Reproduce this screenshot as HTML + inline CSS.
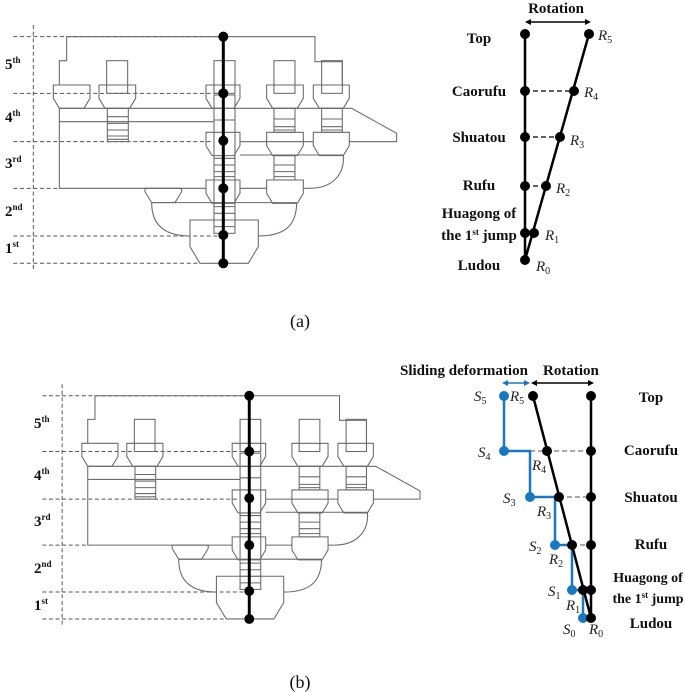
<!DOCTYPE html>
<html><head><meta charset="utf-8"><style>
html,body{margin:0;padding:0;background:#fff;}
svg{display:block;}
.lb{font-family:"Liberation Serif",serif;font-weight:bold;font-size:15px;fill:#111;}
.it{font-family:"Liberation Serif",serif;font-style:italic;font-size:15px;fill:#222;}
.sub{font-size:10px;font-style:normal;}
</style></head><body>
<svg width="685" height="693" viewBox="0 0 685 693" xmlns="http://www.w3.org/2000/svg">
<defs>
<g id="dr" fill="none" stroke-linejoin="miter">
 <g stroke="#555" stroke-width="3" stroke-dasharray="12,8">
  <path d="M40,50H670M40,220H660M40,365H640M40,505H180M40,648H660M40,730H600M100,15V755"/>
 </g>
 <g stroke="#6a6a6a" stroke-width="3.2">
  <path d="M178,195V122H200V50H945V125H1027V195"/>
  <path d="M178,265H1055L1190,340V365H1048M720,365H940M910,365H800"/>
  <path d="M178,305H642M178,265V505H618M720,505H800M910,505H930"/>
  <path d="M720,405H1030C1035,470 990,505 930,505"/>
  <path d="M435,505H545V515L525,548H455L435,515Z"/>
  <path d="M455,548H890M455,548C455,620 500,648 570,648M890,548C890,620 850,648 775,648"/>
  <path d="M570,600H775V680L745,730H600L570,680Z"/>
  <path d="M160,195H270V235L252,265H178L160,235Z"/>
  <path d="M297,195H407V235L389,265H315L297,235Z"/>
  <path d="M618,195H720V235L702,265H636L618,235Z"/>
  <path d="M800,195H910V235L892,265H818L800,235Z"/>
  <path d="M940,195H1048V235L1030,265H958L940,235Z"/>
  <path d="M618,337H720V377L702,407H636L618,377Z"/>
  <path d="M800,337H910V377L892,407H818L800,377Z"/>
  <path d="M940,337H1048V377L1030,407H958L940,377Z"/>
  <path d="M618,480H720V520L702,550H636L618,520Z"/>
  <path d="M800,480H910V520L892,550H818L800,520Z"/>
  <rect x="320" y="122" width="63" height="98"/>
  <rect x="642" y="122" width="63" height="98"/>
  <rect x="822" y="122" width="63" height="98"/>
  <rect x="965" y="122" width="62" height="98"/>
  <rect x="322" y="265" width="63" height="100"/>
  <path d="M322,290H385M322,310H385M322,330H385M322,348H385M322,358H385"/>
  <rect x="642" y="225" width="63" height="415"/>
  <path d="M642,300H705M642,415H705M642,435H705M642,455H705M642,470H705M642,560H705M642,580H705M642,600H705M642,620H705"/>
  <rect x="822" y="265" width="63" height="72"/>
  <path d="M822,297H885M822,320H885M822,330H885"/>
  <rect x="965" y="265" width="62" height="72"/>
  <path d="M965,297H1027M965,320H1027M965,330H1027"/>
  <rect x="822" y="407" width="63" height="73"/>
  <path d="M822,435H885M822,455H885M822,470H885"/>
 </g>
 <path d="M670,50V730" stroke="#000" stroke-width="9"/>
 <g fill="#000"><circle cx="670" cy="50" r="15"/><circle cx="670" cy="220" r="15"/><circle cx="670" cy="362" r="15"/><circle cx="670" cy="505" r="15"/><circle cx="670" cy="645" r="15"/><circle cx="670" cy="730" r="15"/></g>
</g>
</defs>

<use href="#dr" transform="translate(0,20) scale(0.3333)"/>
<g class="lb">
 <text x="5" y="69">5<tspan font-size="9" dy="-6">th</tspan></text>
 <text x="5" y="122">4<tspan font-size="9" dy="-6">th</tspan></text>
 <text x="5" y="168">3<tspan font-size="9" dy="-6">rd</tspan></text>
 <text x="5" y="216">2<tspan font-size="9" dy="-6">nd</tspan></text>
 <text x="5" y="253">1<tspan font-size="9" dy="-6">st</tspan></text>
</g>

<g>
 <text class="lb" x="556" y="13" text-anchor="middle">Rotation</text>
 <path d="M527,22H589" stroke="#000" stroke-width="1.5"/>
 <path d="M525,22l6,-3v6z M591,22l-6,-3v6z" fill="#000"/>
 <g stroke="#000" stroke-width="1.2" stroke-dasharray="5,3"><path d="M525,91H574M525,137H560M525,186H546"/></g>
 <path d="M525,34V260M525,260L589,34" stroke="#000" stroke-width="2.5"/>
 <g fill="#000">
  <circle cx="525" cy="34" r="5"/><circle cx="525" cy="91" r="5"/><circle cx="525" cy="137" r="5"/><circle cx="525" cy="186" r="5"/><circle cx="525" cy="233" r="5"/><circle cx="525" cy="260" r="5"/>
  <circle cx="589" cy="34" r="5"/><circle cx="574" cy="91" r="5"/><circle cx="560" cy="137" r="5"/><circle cx="546" cy="186" r="5"/><circle cx="534" cy="233" r="5"/>
 </g>
 <g class="lb" text-anchor="middle">
  <text x="479" y="43">Top</text><text x="479" y="96">Caorufu</text><text x="479" y="142">Shuatou</text><text x="479" y="190">Rufu</text>
  <text x="479" y="218">Huagong of</text><text x="479" y="240">the 1<tspan font-size="9" dy="-5">st</tspan><tspan dy="5"> jump</tspan></text><text x="479" y="270">Ludou</text>
 </g>
 <g class="it">
  <text x="598" y="40">R<tspan class="sub" dy="3">5</tspan></text>
  <text x="584" y="97">R<tspan class="sub" dy="3">4</tspan></text>
  <text x="570" y="145">R<tspan class="sub" dy="3">3</tspan></text>
  <text x="556" y="193">R<tspan class="sub" dy="3">2</tspan></text>
  <text x="545" y="240">R<tspan class="sub" dy="3">1</tspan></text>
  <text x="536" y="271">R<tspan class="sub" dy="3">0</tspan></text>
 </g>
</g>
<text x="300" y="327" text-anchor="middle" font-family="Liberation Serif,serif" font-size="18" fill="#111">(a)</text>

<use href="#dr" transform="translate(29.3,379.3) scale(0.3283)"/>
<g class="lb">
 <text x="34" y="428">5<tspan font-size="9" dy="-6">th</tspan></text>
 <text x="34" y="480">4<tspan font-size="9" dy="-6">th</tspan></text>
 <text x="34" y="526">3<tspan font-size="9" dy="-6">rd</tspan></text>
 <text x="34" y="573">2<tspan font-size="9" dy="-6">nd</tspan></text>
 <text x="34" y="610">1<tspan font-size="9" dy="-6">st</tspan></text>
</g>

<g>
 <text class="lb" x="400" y="375">Sliding deformation</text>
 <text class="lb" x="543" y="375">Rotation</text>
 <path d="M504,383H528" stroke="#1a78c2" stroke-width="1.5"/>
 <path d="M502,383l6,-3v6z M530,383l-6,-3v6z" fill="#1a78c2"/>
 <path d="M533,383H592" stroke="#000" stroke-width="1.5"/>
 <path d="M531,383l6,-3v6z M594,383l-6,-3v6z" fill="#000"/>
 <g stroke="#777" stroke-width="1.2" stroke-dasharray="5,3"><path d="M530,451H591M559,497H591M572,545H591"/></g>
 <path d="M504,396V451H530V497H559M555,497V545H572M572,545V590H583M583,590V618" fill="none" stroke="#1a78c2" stroke-width="2.5"/>
 <path d="M591,396V618M591,618L533,396" stroke="#000" stroke-width="2.5"/>
 <g fill="#1a78c2">
  <circle cx="504" cy="396" r="5"/><circle cx="504" cy="451" r="5"/><circle cx="530" cy="497" r="5"/><circle cx="555" cy="545" r="5"/><circle cx="572" cy="590" r="5"/><circle cx="583" cy="618" r="5"/>
 </g>
 <g fill="#000">
  <circle cx="591" cy="396" r="5"/><circle cx="591" cy="451" r="5"/><circle cx="591" cy="497" r="5"/><circle cx="591" cy="545" r="5"/><circle cx="591" cy="590" r="5"/><circle cx="591" cy="618" r="5"/>
  <circle cx="533" cy="396" r="5"/><circle cx="547" cy="451" r="5"/><circle cx="559" cy="497" r="5"/><circle cx="572" cy="545" r="5"/><circle cx="583" cy="590" r="5"/>
 </g>
 <g class="lb" text-anchor="middle">
  <text x="651" y="402">Top</text><text x="651" y="455">Caorufu</text><text x="651" y="502">Shuatou</text><text x="651" y="549">Rufu</text>
  <text x="648" y="582" font-size="14">Huagong of</text><text x="648" y="603" font-size="14">the 1<tspan font-size="9" dy="-5">st</tspan><tspan dy="5"> jump</tspan></text><text x="651" y="628">Ludou</text>
 </g>
 <g class="it">
  <text x="474" y="401">S<tspan class="sub" dy="3">5</tspan></text>
  <text x="510" y="401">R<tspan class="sub" dy="3">5</tspan></text>
  <text x="478" y="457">S<tspan class="sub" dy="3">4</tspan></text>
  <text x="532" y="470">R<tspan class="sub" dy="3">4</tspan></text>
  <text x="503" y="503">S<tspan class="sub" dy="3">3</tspan></text>
  <text x="537" y="516">R<tspan class="sub" dy="3">3</tspan></text>
  <text x="529" y="551">S<tspan class="sub" dy="3">2</tspan></text>
  <text x="549" y="564">R<tspan class="sub" dy="3">2</tspan></text>
  <text x="548" y="596">S<tspan class="sub" dy="3">1</tspan></text>
  <text x="566" y="610">R<tspan class="sub" dy="3">1</tspan></text>
  <text x="563" y="634">S<tspan class="sub" dy="3">0</tspan></text>
  <text x="589" y="634">R<tspan class="sub" dy="3">0</tspan></text>
 </g>
</g>
<text x="300" y="688" text-anchor="middle" font-family="Liberation Serif,serif" font-size="18" fill="#111">(b)</text>
</svg>
</body></html>
